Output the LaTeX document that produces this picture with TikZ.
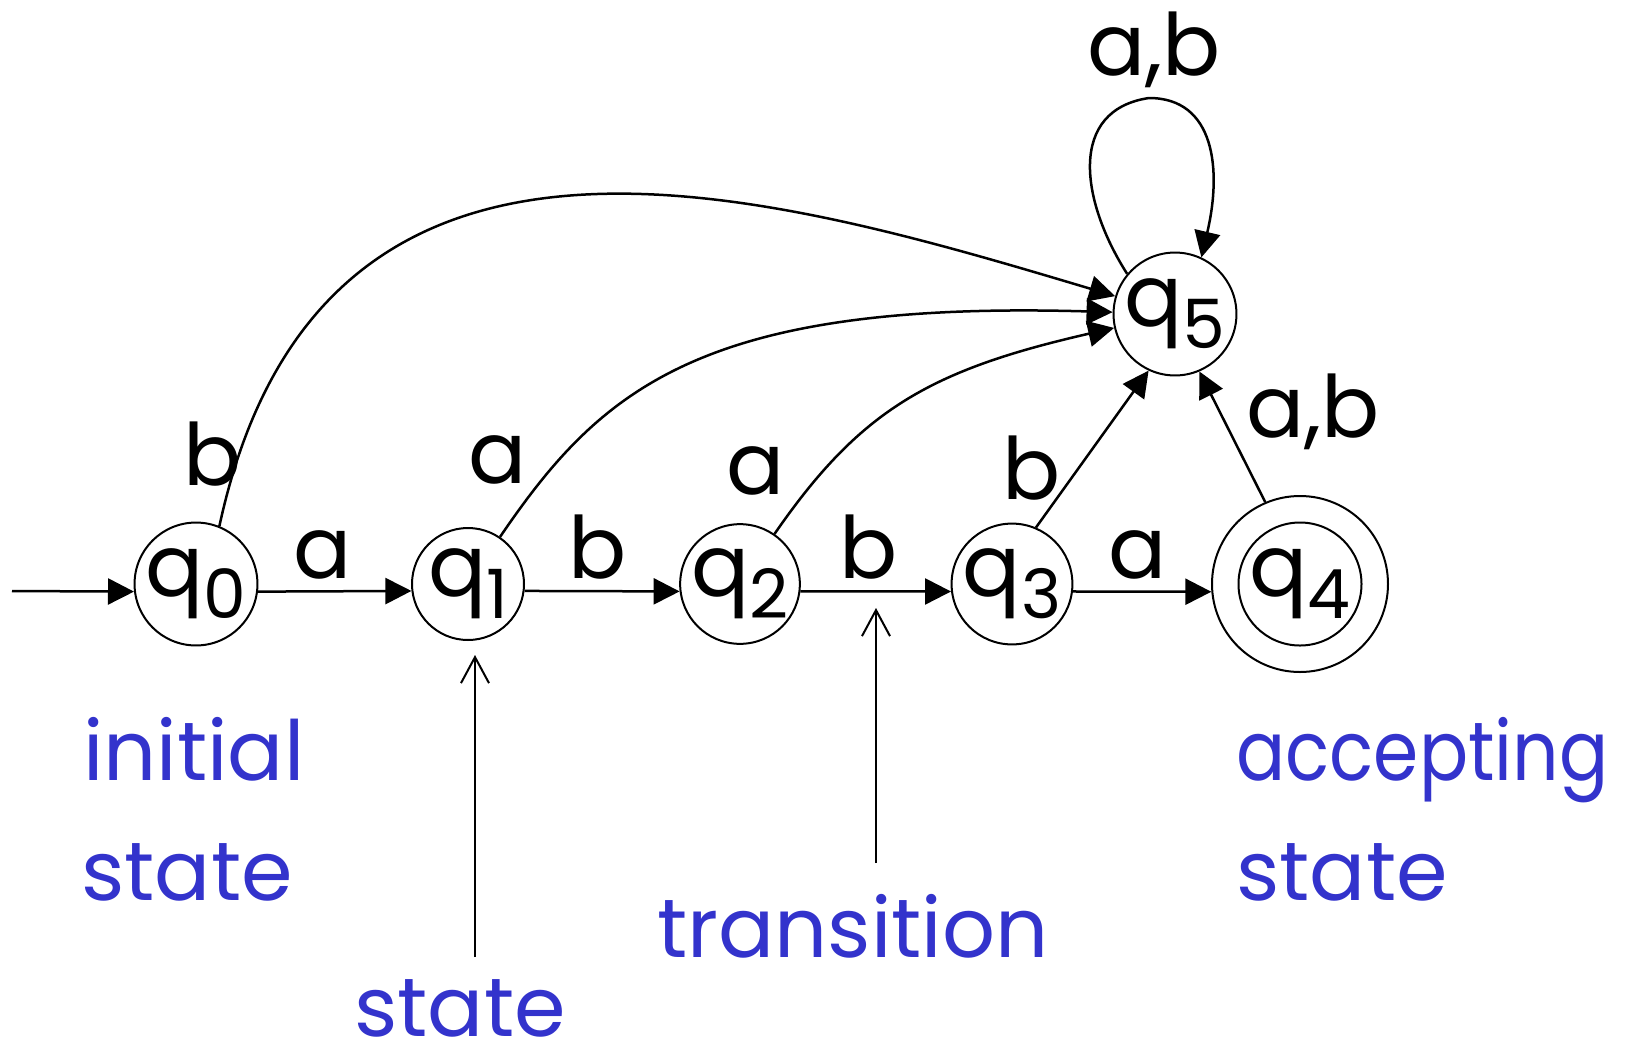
\documentclass[tikz,border=0pt]{standalone}
\usepackage{fontspec}
\setmainfont{Poppins}
\usetikzlibrary{arrows.meta}
\definecolor{lblue}{RGB}{51,51,204}
\newcommand\qlab[1]{q\raisebox{-0.25em}{\fontsize{34}{34}\selectfont #1}}
\begin{document}
\begin{tikzpicture}[x=0.5pt,y=-0.5pt,
  st/.style={circle,draw,line width=1pt,minimum size=56pt,inner sep=0pt,font=\fontsize{43}{43}\selectfont},
  acc/.style={circle,draw,line width=1pt,minimum size=88pt,inner sep=0pt},
  tr/.style={line width=1.25pt,-{Triangle[length=13pt,width=13pt]}},
  lbl/.style={font=\fontsize{43}{43}\selectfont,anchor=base,inner sep=0pt},
  note/.style={font=\fontsize{41.5}{41.5}\selectfont,text=lblue,anchor=base west,inner sep=0pt},
  pt/.style={line width=1pt,-{Straight Barb[length=13pt,width=14pt]}}
]
\useasboundingbox (0,0) rectangle (1630,1056);
% states
\node[st] (q0) at (196,584) {\qlab0};
\node[st] (q1) at (468,584) {\qlab1};
\node[st] (q2) at (740,584) {\qlab2};
\node[st] (q3) at (1012,584) {\qlab3};
\node[acc] (q4) at (1300,584) {};
\node[st] (q4i) at (1300,584) {\qlab4};
\node[st] (q5) at (1175,314) {\qlab5};
% transitions
\coordinate (init) at (12,591);
\draw[tr] (init) -- (q0.187);
\draw[tr] (q0.-7) -- (q1.187);
\draw[tr] (q1.-7) -- (q2.187);
\draw[tr] (q2.-7) -- (q3.187);
\draw[tr] (q3.-7) -- (q4.185);
\draw[tr] (q0.68) .. controls (320,60) and (760,190) .. (q5);
\draw[tr] (q1) .. controls (600,390) and (700,300) .. (q5);
\draw[tr] (q2) .. controls (860,410) and (930,370) .. (q5);
\draw[tr] (q3.67) -- (q5.245);
\draw[tr] (q4.113) -- (q5.293);
\draw[tr] (q5.140) .. controls (1080,200) and (1068,110) .. (1149,98)
          .. controls (1215,98) and (1222,170) .. (q5.65);
% transition labels
\node[lbl] (la01) at (323,578) {a};
\node[lbl] (lb12) at (598,578) {b};
\node[lbl] (lb23) at (869,578) {b};
\node[lbl] (la34) at (1138,578) {a};
\node[lbl] (lb05) at (213,485) {b};
\node[lbl] (la15) at (498,483) {a};
\node[lbl] (la25) at (756,494) {a};
\node[lbl] (lb35) at (1032,499) {b};
\node[lbl] (lab45) at (1313,437) {a,b};
\node[lbl] (lab55) at (1154,75) {a,b};
% annotations
\node[note] (n1) at (83,780) {initial};
\node[note] (n2) at (81,900) {state};
\node[note] (n3) at (354,1036) {state};
\node[note] (n4) at (657,957) {transition};
\node[note] (n5) at (1236,780) {\resizebox{186pt}{\height}{accepting}};
\node[note] (n6) at (1236,900) {state};
\coordinate (sa) at (475,957);
\coordinate (sb) at (475,655);
\draw[pt] (sa) -- (sb);
\coordinate (ta) at (876,863);
\coordinate (tb) at (876,608);
\draw[pt] (ta) -- (tb);
\end{tikzpicture}
\end{document}
